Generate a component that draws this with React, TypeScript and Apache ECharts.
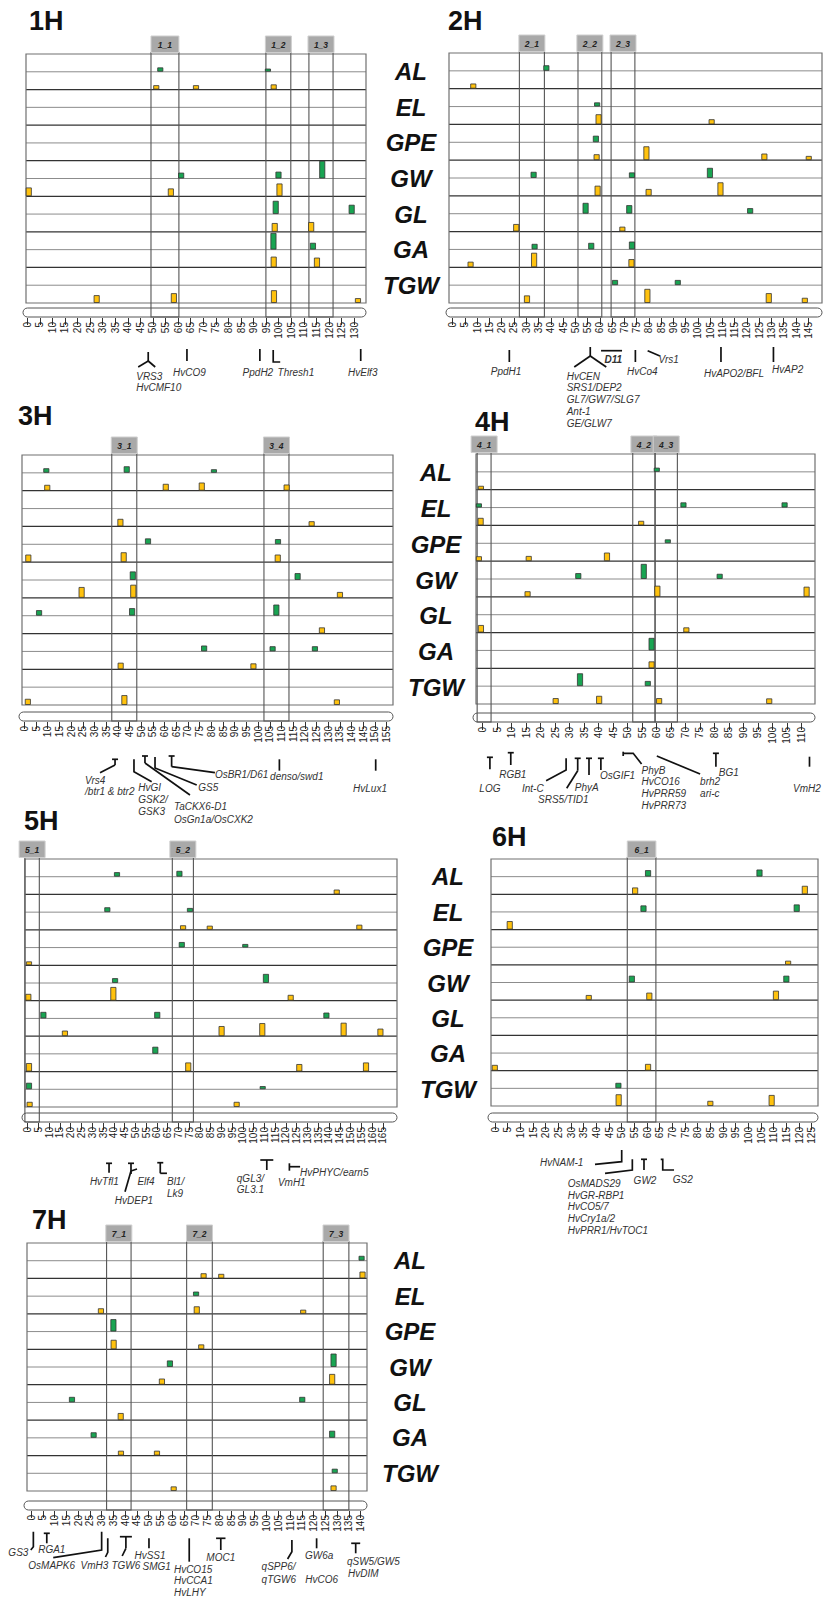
import React, { useEffect, useRef } from "react";
import * as echarts from "echarts";

const FONT = "Liberation Sans";
const TRAITS = ["AL", "EL", "GPE", "GW", "GL", "GA", "TGW"];
const CHROMOSOMES = ["1H", "2H", "3H", "4H", "5H", "6H", "7H"];

// tick labels (cM)
const TICKS_1H = [0,5,10,15,20,25,30,35,40,45,50,55,60,65,70,75,80,85,90,95,100,105,110,115,120,125,130];
const TICKS_2H = [0,5,10,15,20,25,30,35,40,45,50,55,60,65,70,75,80,85,90,95,100,105,110,115,120,125,130,135,140,145];
const TICKS_3H = [0,5,10,15,20,25,30,35,40,45,50,55,60,65,70,75,80,85,90,95,100,105,110,115,120,125,130,135,140,145,150,155];
const TICKS_4H = [0,5,10,15,20,25,30,35,40,45,50,55,60,65,70,75,80,85,90,95,100,105,110,115];
const TICKS_5H = [0,5,10,15,20,25,30,35,40,45,50,55,60,65,70,75,80,85,90,95,100,105,110,115,120,125,130,135,140,145,150,155,160,165];
const TICKS_6H = [0,5,10,15,20,25,30,35,40,45,50,55,60,65,70,75,80,85,90,95,100,105,110,115,120,125];
const TICKS_7H = [0,5,10,15,20,25,30,35,40,45,50,55,60,65,70,75,80,85,90,95,100,105,110,115,120,125,130,135,140];

// QTL: [trait, environment (0 = green, 1 = yellow), position cM, size (0-18 of a row)]
const QTL_1H = [
  ["AL",0,52.9,3.5],["AL",0,95.7,2.3],
  ["AL",1,51.3,3.5],["AL",1,67.1,3.5],["AL",1,98.0,4.3],
  ["GW",0,61.2,5],["GW",0,99.9,6],["GW",0,117.3,17],
  ["GW",1,0.6,8],["GW",1,57.1,7],["GW",1,100.3,12],
  ["GL",0,98.8,12.5],["GL",0,129.0,8.5],
  ["GL",1,98.4,8],["GL",1,112.9,9],
  ["GA",0,97.9,16],["GA",0,113.6,6],
  ["GA",1,98.0,10],["GA",1,115.2,9],
  ["TGW",1,27.6,7],["TGW",1,58.3,9],["TGW",1,98.1,12],["TGW",1,131.5,4],
];
const QTL_2H = [
  ["AL",0,38.2,4.7],["AL",1,8.4,4.3],
  ["EL",0,58.9,3.3],["EL",1,59.5,9.3],["EL",1,105.6,4.3],
  ["GPE",0,58.4,5.7],["GPE",1,58.7,5],["GPE",1,79.0,13],["GPE",1,127.1,5.7],["GPE",1,145.2,3.3],
  ["GW",0,33.0,5.3],["GW",0,73.1,4.7],["GW",0,104.9,9.3],["GW",1,59.1,9.3],["GW",1,79.9,6],["GW",1,109.2,12.7],
  ["GL",0,54.2,10],["GL",0,72.0,7.7],["GL",0,121.3,4.7],["GL",1,25.9,6.7],["GL",1,69.2,4],
  ["GA",0,33.4,4.7],["GA",0,56.5,5.7],["GA",0,73.1,7],["GA",1,7.3,4.7],["GA",1,33.2,13.7],["GA",1,72.9,7.3],
  ["TGW",0,66.2,4.3],["TGW",0,91.8,4.3],["TGW",1,30.3,6.7],["TGW",1,79.4,13.3],["TGW",1,128.9,9],["TGW",1,143.6,4.3],
];
const QTL_3H = [
  ["AL",0,9.4,3.7],["AL",0,43.8,5.7],["AL",0,81.1,2.7],
  ["AL",1,9.8,5],["AL",1,60.5,6],["AL",1,75.9,7.3],["AL",1,112.2,5.3],
  ["EL",1,41.1,6.7],["EL",1,122.9,4.3],
  ["GPE",0,52.9,5],["GPE",0,108.5,4.3],
  ["GPE",1,1.7,6.7],["GPE",1,42.5,9],["GPE",1,108.4,6.7],
  ["GW",0,46.4,7.7],["GW",0,116.9,6],
  ["GW",1,24.5,10],["GW",1,46.6,12.3],["GW",1,135.0,5],
  ["GL",0,6.3,4.7],["GL",0,46.1,6.7],["GL",0,107.8,10.3],
  ["GL",1,127.3,5.3],
  ["GA",0,76.9,5],["GA",0,106.2,4.3],["GA",0,124.3,4.3],
  ["GA",1,41.2,5.7],["GA",1,98.0,5],
  ["TGW",1,1.5,5.3],["TGW",1,42.8,9],["TGW",1,133.7,4.7],
];
const QTL_4H = [
  ["AL",0,60.1,3.3],["AL",1,-0.6,3],
  ["EL",0,-1.3,3.3],["EL",0,69.3,4.3],["EL",0,104.2,4.3],
  ["EL",1,-0.7,6.7],["EL",1,54.7,3.7],
  ["GPE",0,63.9,3],
  ["GPE",1,-1.3,4],["GPE",1,15.9,4.3],["GPE",1,42.9,7.7],
  ["GW",0,33.0,5],["GW",0,55.6,14.3],["GW",0,81.8,4.3],
  ["GW",1,15.5,4.7],["GW",1,60.3,10.3],["GW",1,111.8,9.3],
  ["GL",1,-0.6,6.7],["GL",1,70.3,4.3],
  ["GA",0,58.3,11.7],["GA",1,58.3,6],
  ["TGW",0,33.6,12],["TGW",0,57.0,4.3],
  ["TGW",1,25.2,5],["TGW",1,40.2,7.3],["TGW",1,60.9,5],["TGW",1,98.9,4.7],
];
const QTL_5H = [
  ["AL",0,41.5,3.7],["AL",0,70.5,5],["AL",1,143.6,4],
  ["EL",0,37.0,4],["EL",0,75.4,3.3],
  ["EL",1,72.2,3.7],["EL",1,84.6,3.3],["EL",1,154.1,4.3],
  ["GPE",0,71.6,4.7],["GPE",0,101.1,2.7],["GPE",1,0.6,3],
  ["GW",0,40.6,4],["GW",0,110.7,8.3],
  ["GW",1,0.3,6],["GW",1,39.8,13],["GW",1,122.2,5],
  ["GL",0,7.3,5.7],["GL",0,60.2,5.7],["GL",0,138.8,5],
  ["GL",1,17.3,4.7],["GL",1,90.1,9.3],["GL",1,109.0,12.3],["GL",1,146.8,12.7],["GL",1,163.9,6.7],
  ["GA",0,59.3,6.3],
  ["GA",1,0.6,7.7],["GA",1,74.6,8.3],["GA",1,126.2,6.7],["GA",1,157.2,8.3],
  ["TGW",0,0.6,5.7],["TGW",0,109.2,2.3],
  ["TGW",1,0.9,4.3],["TGW",1,97.1,4.3],
];
const QTL_6H = [
  ["AL",0,60.4,5.7],["AL",0,104.4,6.3],
  ["AL",1,55.3,6],["AL",1,122.3,7.7],
  ["EL",0,58.6,5.7],["EL",0,119.1,6.7],
  ["EL",1,5.8,7.7],
  ["GPE",1,115.7,3.3],
  ["GW",0,54.0,6],["GW",0,115.0,6],
  ["GW",1,37.0,4.3],["GW",1,60.9,6.7],["GW",1,110.9,8.7],
  ["GA",1,-0.1,5],["GA",1,60.4,6],
  ["TGW",0,48.7,4.7],
  ["TGW",1,48.8,11],["TGW",1,85.0,4.3],["TGW",1,109.2,10.3],
];
const QTL_7H = [
  ["AL",0,140.4,4],
  ["AL",1,73.3,4.3],["AL",1,80.8,3.7],["AL",1,140.8,6],
  ["EL",0,70.1,3.7],
  ["EL",1,29.7,4.7],["EL",1,70.4,6.7],["EL",1,115.6,3.3],
  ["GPE",0,35.0,11.7],
  ["GPE",1,35.1,8.7],["GPE",1,72.3,4],
  ["GW",0,59.0,5.7],["GW",0,128.5,12.7],
  ["GW",1,55.6,5.3],["GW",1,127.9,10],
  ["GL",0,17.4,4.7],["GL",0,115.2,4.7],
  ["GL",1,38.1,6.3],
  ["GA",0,26.6,4.7],["GA",0,127.9,6.3],
  ["GA",1,38.2,4],["GA",1,53.5,4],
  ["TGW",0,129.0,3.7],
  ["TGW",1,60.6,3.7],["TGW",1,128.5,4.7],
];

// QTL clusters: [label, start cM, end cM]
const CLUSTERS_1H = [["1_1",49.2,60.3],["1_2",94.9,104.8],["1_3",112,121.6]];
const CLUSTERS_2H = [["2_1",27.2,37.4],["2_2",51.1,60.8],["2_3",64.6,74.3]];
const CLUSTERS_3H = [["3_1",37.4,48.1],["3_4",102.5,113.2]];
const CLUSTERS_4H = [["4_1",-1.9,2.9],["4_2",51.8,59.5],["4_3",59.5,67.2]];
const CLUSTERS_5H = [["5_1",-1.3,5.4],["5_2",67.2,77]];
const CLUSTERS_6H = [["6_1",52.2,63.5]];
const CLUSTERS_7H = [["7_1",32.1,42.5],["7_2",66.1,77],["7_3",124.1,135]];

// candidate genes: [name, position cM]
const GENES_1H = [["VRS3\nHvCMF10",48.1],["HvCO9",63.5],["PpdH2",92.5],["Thresh1",97.8],["HvElf3",132.6]];
const GENES_2H = [["PpdH1",23.1],["HvCEN\nSRS1/DEP2\nGL7/GW7/SLG7\nAnt-1\nGE/GLW7",56.1],["D11",60.5],["HvCo4",74.5],["Vrs1",79.5],["HvAPO2/BFL",109.4],["HvAP2",130.8]];
const GENES_3H = [["Vrs4\n/btr1 & btr2",38.8],["HvGI\nGSK2/\nGSK3",46.9],["TaCKX6-D1\nOsGn1a/OsCXK2",51.6],["GS5",55.9],["OsBR1/D61",63.0],["denso/swd1",109.1],["HvLux1",150.3]];
const GENES_4H = [["LOG",2.5],["RGB1",9.7],["Int-C",28.8],["SRS5/TID1",32.8],["PhyA",36.7],["OsGIF1",40.8],["PhyB\nHvCO16\nHvPRR59\nHvPRR73",48.5],["brh2\nari-c",60.1],["BG1",80.5],["VmH2",112.8]];
const GENES_5H = [["HvTfl1",37.8],["Elf4",48.0],["HvDEP1",48.0],["Bl1/\nLk9",61.6],["qGL3/\nGL3.1",111.1],["VmH1",121.6],["HvPHYC/earn5",121.6]];
const GENES_6H = [["HvNAM-1",50.0],["OsMADS29\nHvGR-RBP1\nHvCO5/7\nHvCry1a/2\nHvPRR1/HvTOC1",54.2],["GW2",58.8],["GS2",66.2]];
const GENES_7H = [["GS3",1.0],["RGA1",6.7],["OsMAPK6",30.0],["VmH3",32.6],["TGW6",40.3],["HvSS1",50.1],["SMG1",50.1],["HvCO15\nHvCCA1\nHvLHY",67.2],["MOC1",80.6],["qSPP6/\nqTGW6",110.8],["GW6a",121.3],["HvCO6",121.3],["qSW5/GW5",137.9],["HvDIM",137.9]];

// ---------- layout (px offsets relative to gene position and panel bottom) ----------
const I = (top: number, len: number) => [[[0, top], [0, top + len]]];
const T = (top: number, len: number, w = 3) => [[[0, top], [0, top + len]], [[-w, top], [w, top]]];

const GENE_LAYOUT_1H = [
  { segs: [[[0,49],[0,58]],[[0,58],[-10,64]],[[0,58],[7,64]]], tx: -12, ty: 73, align: "left", lh: 11 },
  { segs: I(46,12), tx: 2.5, ty: 69, align: "center" },
  { segs: I(46,12), tx: -2, ty: 69, align: "center" },
  { segs: [[[0,47],[0,59],[7,59]]], tx: 22.7, ty: 69, align: "center" },
  { segs: I(46,12), tx: 2, ty: 69, align: "center" },
];
const GENE_LAYOUT_2H = [
  { segs: I(47,12), tx: -3.3, ty: 68, align: "center" },
  { segs: [[[0,44],[0,53]],[[0,53],[-16,64]],[[0,53],[16,64]]], tx: -23.6, ty: 73, align: "left", lh: 11.8 },
  { segs: [[[0,47.7],[21,47.7]]], tx: 12.3, ty: 56.3, align: "center", bold: true },
  { segs: I(47,12), tx: 7, ty: 68.7, align: "center" },
  { segs: [[[0,47.7],[12.3,53]]], tx: 21, ty: 56.3, align: "center" },
  { segs: I(44,15), tx: 13, ty: 70.3, align: "center" },
  { segs: I(44,15), tx: 14.2, ty: 66.3, align: "center" },
];
const GENE_LAYOUT_3H = [
  { segs: [...T(54.3,5.7), [[0,60],[-15,67.7]]], tx: -30, ty: 75, align: "left", lh: 11.7 },
  { segs: [[[0,54.3],[0,66.7],[17.7,76.7]]], tx: 4.3, ty: 82.3, align: "left", lh: 12.3 },
  { segs: [...T(51,7), [[0,58],[45,90]]], tx: 29, ty: 101.7, align: "left", lh: 12.6 },
  { segs: [[[0,52],[0,63],[41.7,80]]], tx: 43.3, ty: 82.3, align: "left" },
  { segs: [...T(51,10.7), [[0,61.7],[43.3,67.7]]], tx: 43.3, ty: 69, align: "left" },
  { segs: I(54.3,11.4), tx: 17.4, ty: 71, align: "center" },
  { segs: I(54.3,11.4), tx: -5.7, ty: 83.3, align: "center" },
];
const GENE_LAYOUT_4H = [
  { segs: T(53.3,12), tx: 0, ty: 84.3, align: "center" },
  { segs: T(48.7,12.3), tx: 2, ty: 70, align: "center" },
  { segs: [[[0,54.3],[0,66],[-20,76.7]]], tx: -33.3, ty: 84.3, align: "center" },
  { segs: [...T(54.3,12.4), [[0,66.7],[-11,84.3]]], tx: -14.4, ty: 95.3, align: "center" },
  { segs: T(54.3,16.7), tx: -2.3, ty: 83.3, align: "center" },
  { segs: T(54.3,11.7), tx: 16.7, ty: 71, align: "center" },
  { segs: [[[0,47.7],[0,52]],[[0,49.3],[10,49.3],[18.4,60]]], tx: 18.4, ty: 66, align: "left", lh: 11.7 },
  { segs: [[[0,52],[43.3,70]]], tx: 43.3, ty: 77.7, align: "left", lh: 11.7 },
  { segs: T(49.3,13.4), tx: 12.8, ty: 68.7, align: "center" },
  { segs: I(52.7,10), tx: -2.6, ty: 84.3, align: "center" },
];
const GENE_LAYOUT_5H = [
  { segs: T(56.3,9.4), tx: -4.7, ty: 74.7, align: "center" },
  { segs: [...T(56.3,10.7), [[0,64],[6,62]]], tx: 15, ty: 74.7, align: "center" },
  { segs: [[[0,64],[-6,84.7]]], tx: 3, ty: 93, align: "center" },
  { segs: [...T(55.7,10.6), [[0,66.3],[6.7,66.3]]], tx: 6.7, ty: 74.7, align: "left", lh: 11.6 },
  { segs: T(53,10,6.5), tx: -30, ty: 71.3, align: "left", lh: 11 },
  { segs: [], tx: 2.4, ty: 75.7, align: "center" },
  { segs: [[[0,56.3],[0,63.7]],[[0,59.7],[10.7,59.7]]], tx: 10.7, ty: 65.7, align: "left" },
];
const GENE_LAYOUT_6H = [
  { segs: [[[0,44],[0,55.7],[-26.7,58.3]]], tx: -60, ty: 56.7, align: "center" },
  { segs: [[[0,53.3],[0,64],[-27.3,67.3]]], tx: -64.6, ty: 77.3, align: "left", lh: 11.7 },
  { segs: T(53.3,10.7), tx: 1, ty: 74.7, align: "center" },
  { segs: [[[-2,53.3],[0,53.3],[0,64],[11.3,64]]], tx: 20, ty: 73.3, align: "center" },
];
const GENE_LAYOUT_7H = [
  { segs: [[[0,40.7],[0,55.7],[-2.6,59]]], tx: -15, ty: 61.7, align: "center" },
  { segs: T(42.3,10), tx: 5, ty: 58, align: "center" },
  { segs: [[[0,40.7],[0,59],[-48.4,66.7]]], tx: -50, ty: 74.7, align: "center" },
  { segs: [[[0,47.3],[0,61.3],[-2.3,66]]], tx: -13.4, ty: 74, align: "center" },
  { segs: [...T(45.7,11.6,6), [[0,57.3],[-3.7,65]]], tx: 0, ty: 74.7, align: "center" },
  { segs: I(47.3,10), tx: 1, ty: 64, align: "center" },
  { segs: [], tx: 7.7, ty: 75.7, align: "center" },
  { segs: I(47.3,23.4), tx: -15.3, ty: 78, align: "left", lh: 11.7 },
  { segs: T(47.3,11.7,4.7), tx: 0, ty: 66.3, align: "center" },
  { segs: [[[0,49],[0,60.7],[-4.3,68]]], tx: -30.3, ty: 75.7, align: "left", lh: 12.3 },
  { segs: I(47.3,10), tx: 2.6, ty: 64.7, align: "center" },
  { segs: [], tx: 5, ty: 88.3, align: "center" },
  { segs: T(52.3,10,4.5), tx: 17.6, ty: 70.7, align: "center" },
  { segs: [], tx: 7.6, ty: 82.3, align: "center" },
];

const PANEL_LAYOUT = [
  { grid: { left: 26, top: 54, width: 340, height: 249 }, xMin: -0.5, xMax: 134.7, chromOff: 5, title: [29, 21], traitX: 411 },
  { grid: { left: 449, top: 53, width: 373, height: 250 }, xMin: -1.5, xMax: 150.6, chromOff: 5, title: [448, 21], traitX: 0 },
  { grid: { left: 22, top: 455, width: 371, height: 250 }, xMin: -1.0, xMax: 157.7, chromOff: 7, title: [18, 416], traitX: 436 },
  { grid: { left: 476, top: 454, width: 339, height: 250 }, xMin: -2.3, xMax: 114.7, chromOff: 9, title: [475, 422], traitX: 0 },
  { grid: { left: 25, top: 859, width: 372, height: 248 }, xMin: -1.25, xMax: 171.6, chromOff: 6, title: [24, 821], traitX: 448 },
  { grid: { left: 491, top: 859, width: 327, height: 247 }, xMin: -1.6, xMax: 127.5, chromOff: 7, title: [492, 837], traitX: 0 },
  { grid: { left: 27, top: 1243, width: 340, height: 248 }, xMin: -1.7, xMax: 142.7, chromOff: 10, title: [32, 1220], traitX: 410 },
];

const PANELS: any[] = [
  { qtl: QTL_1H, clusters: CLUSTERS_1H, genes: GENES_1H, layout: GENE_LAYOUT_1H, ticks: TICKS_1H },
  { qtl: QTL_2H, clusters: CLUSTERS_2H, genes: GENES_2H, layout: GENE_LAYOUT_2H, ticks: TICKS_2H },
  { qtl: QTL_3H, clusters: CLUSTERS_3H, genes: GENES_3H, layout: GENE_LAYOUT_3H, ticks: TICKS_3H },
  { qtl: QTL_4H, clusters: CLUSTERS_4H, genes: GENES_4H, layout: GENE_LAYOUT_4H, ticks: TICKS_4H },
  { qtl: QTL_5H, clusters: CLUSTERS_5H, genes: GENES_5H, layout: GENE_LAYOUT_5H, ticks: TICKS_5H },
  { qtl: QTL_6H, clusters: CLUSTERS_6H, genes: GENES_6H, layout: GENE_LAYOUT_6H, ticks: TICKS_6H },
  { qtl: QTL_7H, clusters: CLUSTERS_7H, genes: GENES_7H, layout: GENE_LAYOUT_7H, ticks: TICKS_7H },
];

const GREEN = "#19a452";
const YELLOW = "#ffc20e";

function makeFrame(pi: number) {
  return (_params: any, api: any) => {
    const L = PANEL_LAYOUT[pi];
    const P = PANELS[pi];
    const [xl, yt] = api.coord([L.xMin, 0]);
    const [xr, yb] = api.coord([L.xMax, 14]);
    const rowH = (yb - yt) / 14;
    const ch: any[] = [];
    for (let r = 1; r < 14; r++) {
      const y = yt + r * rowH;
      const major = r % 2 === 0;
      ch.push({
        type: "line",
        shape: { x1: xl, y1: y, x2: xr, y2: y },
        style: { stroke: major ? "#333" : "#8c8c8c", lineWidth: major ? 1.3 : 1 },
      });
    }
    ch.push({
      type: "rect",
      shape: { x: xl, y: yt, width: xr - xl, height: yb - yt },
      style: { fill: "none", stroke: "#707070", lineWidth: 1.2 },
    });
    const cTop = yb + L.chromOff;
    const cBot = cTop + 9;
    ch.push({
      type: "rect",
      shape: { x: xl - 3, y: cTop, width: xr - xl + 3, height: 9, r: 4.5 },
      style: { fill: "#fff", stroke: "#555", lineWidth: 1 },
    });
    P.clusters.forEach(([lab, s, e]: any) => {
      const xs = api.coord([s, 0])[0];
      const xe = api.coord([e, 0])[0];
      ch.push({
        type: "rect",
        shape: { x: xs, y: yt - 1.5, width: xe - xs, height: cBot - (yt - 1.5) },
        style: { fill: "none", stroke: "#555", lineWidth: 1.1 },
      });
      const w = Math.max(xe - xs, 26);
      const cx = (xs + xe) / 2;
      ch.push({
        type: "rect",
        shape: { x: cx - w / 2, y: yt - 18, width: w, height: 16.5 },
        style: { fill: "#a9a9a9", stroke: "#cfcfcf", lineWidth: 1 },
      });
      ch.push({
        type: "text",
        x: cx,
        y: yt - 9.5,
        style: {
          text: lab, fontSize: 8.5, fontStyle: "italic", fontWeight: "bold", fontFamily: FONT,
          fill: "#222", align: "center", verticalAlign: "middle",
        },
      });
    });
    P.genes.forEach(([name, cm]: any, gi: number) => {
      const lay = P.layout[gi];
      const ax = api.coord([cm, 0])[0];
      lay.segs.forEach((seg: number[][]) =>
        ch.push({
          type: "polyline",
          shape: { points: seg.map(([dx, dy]) => [ax + dx, yb + dy]) },
          style: { stroke: "#111", lineWidth: 1.7, fill: "none" },
        })
      );
      String(name).split("\n").forEach((ln: string, li: number) =>
        ch.push({
          type: "text",
          x: ax + lay.tx,
          y: yb + lay.ty + li * (lay.lh || 11.7),
          style: {
            text: ln, fontSize: 10, fontStyle: "italic", fontWeight: lay.bold ? "bold" : "normal",
            fontFamily: FONT, fill: "#333", align: lay.align, verticalAlign: "middle",
          },
        })
      );
    });
    return { type: "group", children: ch };
  };
}

function qtlRender(_params: any, api: any) {
  const pos = api.value(0);
  const row = api.value(1);
  const size = api.value(2);
  const env = api.value(3);
  const [cx, by] = api.coord([pos, row + 1]);
  const rowPx = Math.abs(api.size([0, 1])[1]);
  const h = (size / 18) * rowPx;
  return {
    type: "rect",
    shape: { x: cx - 2.6, y: by - h - 0.5, width: 5.2, height: h },
    style: { fill: env ? YELLOW : GREEN, stroke: "#333", lineWidth: 0.8 },
  };
}

function buildOption(): any {
  const graphic: any[] = [];
  PANEL_LAYOUT.forEach((L, i) => {
    graphic.push({
      type: "text",
      x: L.title[0],
      y: L.title[1],
      style: { text: CHROMOSOMES[i], fontSize: 27, fontWeight: "bold", fontFamily: FONT, fill: "#111", verticalAlign: "middle" },
    });
    if (L.traitX) {
      TRAITS.forEach((t, k) => {
        graphic.push({
          type: "text",
          x: L.traitX,
          y: L.grid.top + ((k + 0.5) * L.grid.height) / 7,
          style: {
            text: t, fontSize: 24, fontWeight: "bold", fontStyle: "italic", fontFamily: FONT,
            fill: "#111", align: "center", verticalAlign: "middle",
          },
        });
      });
    }
  });

  const series: any[] = [];
  PANELS.forEach((P, i) => {
    series.push({
      type: "custom",
      coordinateSystem: "cartesian2d",
      xAxisIndex: i,
      yAxisIndex: i,
      clip: false,
      silent: true,
      z: 1,
      data: [[PANEL_LAYOUT[i].xMin, 0]],
      encode: { x: 0, y: 1 },
      renderItem: makeFrame(i),
    });
    series.push({
      type: "custom",
      coordinateSystem: "cartesian2d",
      xAxisIndex: i,
      yAxisIndex: i,
      clip: false,
      silent: true,
      z: 3,
      data: P.qtl.map(([t, env, cm, size]: any) => [cm, TRAITS.indexOf(t) * 2 + env, size, env]),
      encode: { x: 0, y: 1 },
      renderItem: qtlRender,
    });
  });

  return {
    animation: false,
    backgroundColor: "#fff",
    grid: PANEL_LAYOUT.map((L) => ({ ...L.grid, containLabel: false, outerBoundsMode: "none" })),
    xAxis: PANEL_LAYOUT.map((L, i) => ({
      gridIndex: i,
      type: "value",
      min: L.xMin,
      max: L.xMax,
      position: "bottom",
      offset: L.chromOff + 10,
      axisLine: { show: false, onZero: false },
      axisTick: { show: true, length: 7, lineStyle: { color: "#333", width: 1 }, customValues: PANELS[i].ticks },
      axisLabel: {
        show: true, rotate: 90, fontSize: 10, margin: 4, color: "#222", fontFamily: FONT,
        customValues: PANELS[i].ticks, hideOverlap: false,
      },
      splitLine: { show: false },
    })),
    yAxis: PANEL_LAYOUT.map((_L, i) => ({
      gridIndex: i,
      type: "value",
      min: 0,
      max: 14,
      inverse: true,
      show: false,
    })),
    graphic,
    series,
  };
}

export default function App() {
  const ref = useRef<HTMLDivElement>(null);
  useEffect(() => {
    document.body.style.margin = "0";
    const chart = echarts.init(ref.current as HTMLDivElement, null, { renderer: "svg" });
    chart.setOption(buildOption());
    return () => chart.dispose();
  }, []);
  return <div ref={ref} style={{ width: 832, height: 1600, background: "#fff" }} />;
}
